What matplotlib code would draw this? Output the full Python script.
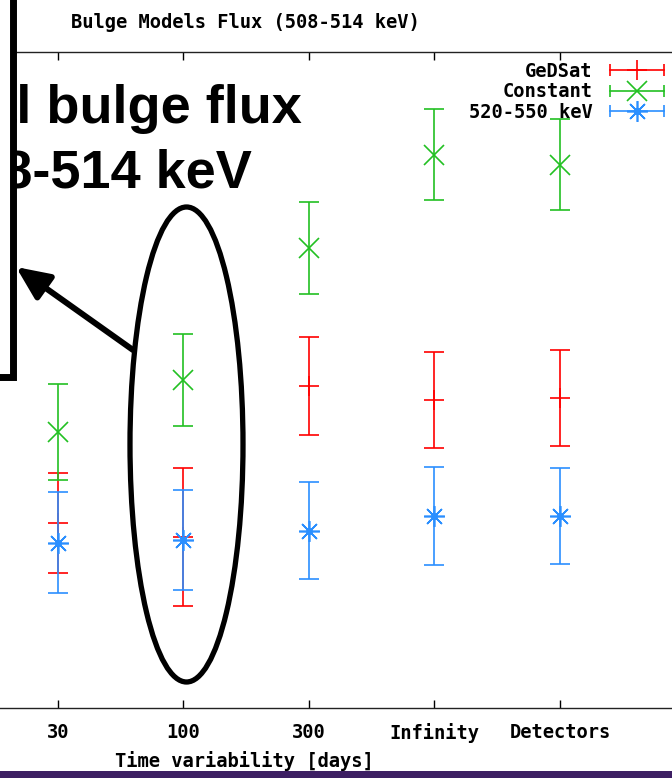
import matplotlib
matplotlib.use('Agg')
import matplotlib.pyplot as plt
from matplotlib.patches import Rectangle, Ellipse, FancyArrowPatch
from matplotlib.lines import Line2D
from matplotlib.legend_handler import HandlerBase
from matplotlib.transforms import Affine2D

# data (flux in arbitrary 1e-4 units, y axis labels are cropped off)
x_pos = [1, 2, 3, 4, 5]
x_labels = ['30', '100', '300', 'Infinity', 'Detectors']

gedsat = [4.63, 4.28, 8.05, 7.70, 7.75]
gedsat_err = [1.25, 1.72, 1.22, 1.20, 1.21]

constant = [6.90, 8.20, 11.50, 13.83, 13.58]
constant_err = [1.19, 1.16, 1.14, 1.14, 1.14]

band_520 = [4.13, 4.20, 4.43, 4.80, 4.80]
band_520_err = [1.26, 1.25, 1.21, 1.22, 1.20]

RED = '#ff0000'
GREEN = '#22c022'
BLUE = '#2b8fff'
mono = {'family': 'DejaVu Sans Mono', 'weight': 'bold', 'size': 13.5}

W, H = 672, 778
fig = plt.figure(figsize=(W / 100, H / 100), dpi=100)
# pixel coords (y from top) -> figure
px = Affine2D().scale(1 / W, -1 / H).translate(0, 1) + fig.transFigure

# gnuplot frame: x=0 at -67.5px, x=6 at 685.5px ; y from 708 to 52 px
ax = fig.add_axes([-67.5 / W, (H - 708) / H, 753 / W, 656 / H])
ax.set_xlim(0, 6)
ax.set_ylim(0, 16.4)

lw = 1.2
ax.errorbar(x_pos, gedsat, yerr=gedsat_err, fmt='none', ecolor=RED,
            elinewidth=lw, capsize=7.5, capthick=lw)
ax.plot(x_pos, gedsat, ls='none', marker='+', ms=15, mew=lw, color=RED)

ax.errorbar(x_pos, constant, yerr=constant_err, fmt='none', ecolor=GREEN,
            elinewidth=lw, capsize=7.5, capthick=lw)
ax.plot(x_pos, constant, ls='none', marker='x', ms=15, mew=lw, color=GREEN)

ax.errorbar(x_pos, band_520, yerr=band_520_err, fmt='none', ecolor=BLUE,
            elinewidth=lw, capsize=7.5, capthick=lw)
ax.plot(x_pos, band_520, ls='none', marker=(8, 2, 0), ms=15, mew=lw, color=BLUE)
ax.plot(x_pos, band_520, ls='none', marker='o', ms=4, color=BLUE)

ax.set_xticks(x_pos)
ax.set_xticklabels(x_labels, fontdict=mono)
ax.set_yticks([])
ax.tick_params(axis='x', direction='in', length=6, width=1, top=True, pad=11)
for s in ax.spines.values():
    s.set_linewidth(1.0)
    s.set_color('#222222')

ax.set_xlabel('Time variability [days]', fontdict=mono, va='center')
ax.xaxis.set_label_coords((244 + 67.5) / 753, (708 - 761) / 656)


class KeyHandler(HandlerBase):
    # gnuplot style key: horizontal bar with end caps and point in the middle
    def __init__(self, color, markers):
        super().__init__()
        self.color = color
        self.markers = markers

    def create_artists(self, legend, orig_handle, xdescent, ydescent,
                       width, height, fontsize, trans):
        y = height / 2 - ydescent
        x0, x1 = -xdescent, -xdescent + width
        arts = [Line2D([x0, x1], [y, y], color=self.color, lw=lw),
                Line2D([x0, x1], [y, y], ls='none', marker='|', ms=8,
                       mew=lw, color=self.color)]
        for m, ms in self.markers:
            arts.append(Line2D([(x0 + x1) / 2], [y], ls='none', marker=m,
                               ms=ms, mew=lw, color=self.color))
        for a in arts:
            a.set_transform(trans)
        return arts


h1, h2, h3 = Line2D([], []), Line2D([], []), Line2D([], [])
fig.legend([h1, h2, h3], ['GeDSat', 'Constant', '520-550 keV'],
           handler_map={h1: KeyHandler(RED, [('+', 15)]),
                        h2: KeyHandler(GREEN, [('x', 15)]),
                        h3: KeyHandler(BLUE, [((8, 2, 0), 15), ('o', 4)])},
           loc='upper right', bbox_to_anchor=(664 / W, (H - 62) / H),
           frameon=False, markerfirst=False, prop=mono,
           handlelength=2.9, handletextpad=0.9, labelspacing=0.07,
           borderpad=0, borderaxespad=0)

fig.text(245, 22, 'Bulge Models Flux (508-514 keV)', transform=px,
         ha='center', va='center', fontdict=mono)

# slide overlay: text box (cropped on the left), arrow and ellipse
big = {'family': 'Liberation Sans', 'weight': 'bold', 'size': 39}
fig.text(302, 123, 'Total bulge flux', transform=px, ha='right',
         va='baseline', fontdict=big, zorder=4)
fig.text(252, 188, '508-514 keV', transform=px, ha='right',
         va='baseline', fontdict=big, zorder=4)

fig.patches.append(Rectangle((-100, -100), 112.5, 477, transform=px,
                             fc='white', ec='black', lw=5, zorder=6))
fig.patches.append(FancyArrowPatch((133, 350), (16, 267), transform=px,
                                   arrowstyle='-|>,head_length=1.0,head_width=0.45',
                                   mutation_scale=20, lw=4.3, color='black',
                                   shrinkA=0, shrinkB=0, zorder=6))
fig.patches.append(Ellipse((186.5, 444.5), 113, 475, transform=px,
                           fill=False, ec='black', lw=3.8, zorder=6))
fig.patches.append(Rectangle((0, 771), W, 7, transform=px,
                             fc='#3d1f63', ec='none', zorder=6))

fig.savefig('out.png', dpi=100)
